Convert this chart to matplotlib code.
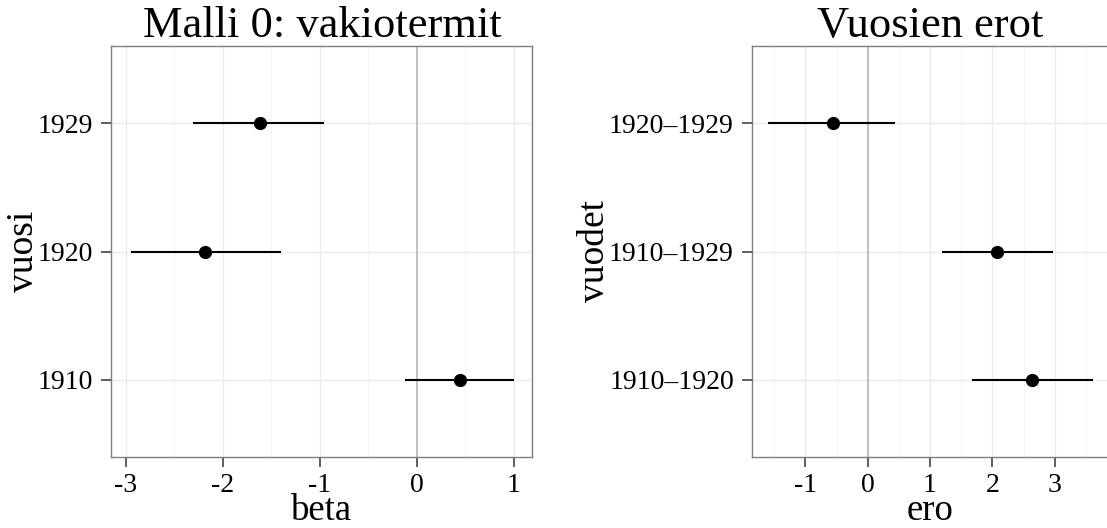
import matplotlib
matplotlib.use("Agg")
import matplotlib.pyplot as plt
from matplotlib.ticker import MultipleLocator

plt.rcParams["font.family"] = ["Liberation Serif", "DejaVu Serif"]
plt.rcParams["axes.unicode_minus"] = False

# Malli 0: intercepts per year
years = ["1910", "1920", "1929"]
beta_est = [0.45, -2.18, -1.61]
beta_lo = [-0.12, -2.94, -2.30]
beta_hi = [1.00, -1.40, -0.95]

# Differences between years
pairs = ["1910–1920", "1910–1929", "1920–1929"]
diff_est = [2.64, 2.07, -0.56]
diff_lo = [1.67, 1.19, -1.60]
diff_hi = [3.62, 2.97, 0.44]

W, H = 1107, 528
fig = plt.figure(figsize=(W / 100, H / 100), dpi=100)
fig.patch.set_facecolor("white")

PANEL_TOP, PANEL_BOTTOM = 46, 457


def px_axes(x0, x1):
    return fig.add_axes([x0 / W, 1 - PANEL_BOTTOM / H, (x1 - x0) / W,
                         (PANEL_BOTTOM - PANEL_TOP) / H])


def forest(ax, labels, est, lo, hi, xlim, title, xlabel, ylabel,
           center_px, ylabel_px, x0, x1):
    pos = list(range(1, len(labels) + 1))
    width = x1 - x0
    height = PANEL_BOTTOM - PANEL_TOP
    ax.set_xlim(*xlim)
    ax.set_ylim(0.4, len(labels) + 0.6)
    ax.xaxis.set_major_locator(MultipleLocator(1))
    ax.xaxis.set_minor_locator(MultipleLocator(0.5))
    ax.grid(which="major", color="#ebebeb", linewidth=1.0)
    ax.grid(which="minor", axis="x", color="#f5f5f5", linewidth=0.8)
    ax.set_axisbelow(True)
    ax.axvline(0, color="#bdbdbd", linewidth=1.3, zorder=1)
    ax.hlines(pos, lo, hi, color="black", linewidth=1.5, zorder=3)
    ax.plot(est, pos, "o", color="black", markersize=8.5, zorder=4)
    ax.set_yticks(pos)
    ax.set_yticklabels(labels)
    ax.tick_params(axis="both", which="major", length=7, width=1.1,
                   color="#333333", labelsize=20)
    ax.tick_params(axis="x", which="major", pad=4.5)
    ax.tick_params(axis="y", which="major", pad=6)
    ax.tick_params(axis="x", which="minor", length=0)
    for s in ax.spines.values():
        s.set_color("#7f7f7f")
        s.set_linewidth(1.0)
    cx = (center_px - x0) / width
    ax.set_title(title, fontsize=32, pad=3, x=cx)
    ax.set_xlabel(xlabel, fontsize=26.5)
    ax.xaxis.label.set_va("baseline")
    ax.xaxis.set_label_coords(cx, -(520 - PANEL_BOTTOM) / height)
    ax.set_ylabel(ylabel, fontsize=27)
    ax.yaxis.label.set_va("center")
    ax.yaxis.set_label_coords((ylabel_px - x0) / width, 0.5)


L0, L1 = 111, 532
ax1 = px_axes(L0, L1)
forest(ax1, years, beta_est, beta_lo, beta_hi, (-3.15, 1.19),
       "Malli 0: vakiotermit", "beta", "vuosi", 322, 24, L0, L1)

R0, R1 = 752, 1112
ax2 = px_axes(R0, R1)
forest(ax2, pairs, diff_est, diff_lo, diff_hi, (-1.857, 3.92),
       "Vuosien erot", "ero", "vuodet", 930, 595, R0, R1)

fig.savefig("out.png", dpi=100, facecolor="white")
